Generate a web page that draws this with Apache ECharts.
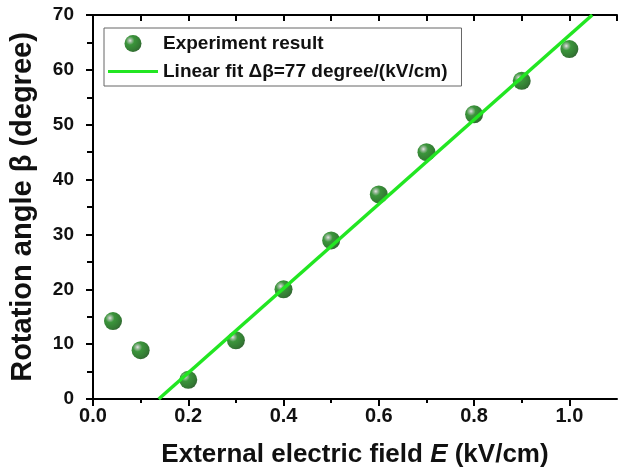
<!DOCTYPE html>
<html>
<head>
<meta charset="utf-8">
<script src="https://cdn.jsdelivr.net/npm/echarts@6/dist/echarts.min.js"></script>
<style>
  html, body { margin: 0; padding: 0; background: #fff; }
  #chart { width: 618px; height: 473px; }
</style>
</head>
<body>
<div id="chart"></div>
<script>
// measured points
const fieldE = [0.042, 0.1, 0.2, 0.3, 0.4, 0.5, 0.6, 0.7, 0.8, 0.9, 1.0];
const angleBeta = [14.2, 8.9, 3.5, 10.7, 20.0, 28.9, 37.3, 45.0, 51.9, 58.0, 63.8];
// linear fit end points
const fitE = [0.138, 1.048];
const fitBeta = [0, 70];
// tick labels
const xMajorTicks = [0, 0.2, 0.4, 0.6, 0.8, 1.0];
const xMinorTicks = [0.1, 0.3, 0.5, 0.7, 0.9];
const xAllTicks = [0, 0.1, 0.2, 0.3, 0.4, 0.5, 0.6, 0.7, 0.8, 0.9, 1.0, 1.1];

const chart = echarts.init(document.getElementById("chart"));

const font = "Liberation Sans, Arial, sans-serif";
const sphere = new echarts.graphic.RadialGradient(0.33, 0.33, 0.75, [
  { offset: 0, color: "#dcdcdc" },
  { offset: 0.14, color: "#7fa87f" },
  { offset: 0.34, color: "#0a7a0a" },
  { offset: 0.8, color: "#005800" },
  { offset: 1, color: "#003c00" },
]);

const axisLine = { show: true, lineStyle: { color: "#000", width: 2 } };
const tickStyle = { width: 2, color: "#000" };

const option = {
  animation: false,
  backgroundColor: "#fff",
  grid: { left: 92, top: 15, right: 1, bottom: 73 },
  legend: {
    orient: "vertical",
    left: 104,
    top: 28,
    padding: [6, 14, 5, 4],
    itemGap: 9,
    itemWidth: 50,
    itemHeight: 17,
    borderColor: "#666",
    borderWidth: 1,
    textStyle: { fontFamily: font, fontWeight: "bold", fontSize: 19, color: "#111" },
    data: [
      { name: "Experiment result" },
      { name: "Linear fit Δβ=77 degree/(kV/cm)", icon: "path://M0,0h50v3.2h-50z" },
    ],
  },
  xAxis: [
    {
      type: "value",
      min: 0,
      max: 1.1,
      position: "bottom",
      name: "External electric field {i|E} (kV/cm)",
      nameLocation: "middle",
      nameGap: 43,
      nameTextStyle: {
        fontFamily: font,
        fontWeight: "bold",
        fontSize: 26,
        color: "#111",
        rich: { i: { fontStyle: "italic", fontWeight: "bold", fontSize: 26, fontFamily: font, color: "#111" } },
      },
      axisLine: axisLine,
      axisTick: { show: true, length: 7, lineStyle: tickStyle, customValues: xMajorTicks },
      axisLabel: {
        customValues: xMajorTicks,
        formatter: (v) => v.toFixed(1),
        fontFamily: font,
        fontWeight: "bold",
        fontSize: 20,
        color: "#111",
        margin: 7,
      },
      splitLine: { show: false },
    },
    {
      type: "value",
      min: 0,
      max: 1.1,
      position: "bottom",
      axisLine: { show: false },
      axisTick: { show: true, length: 4, lineStyle: tickStyle, customValues: xMinorTicks },
      axisLabel: { show: false },
      splitLine: { show: false },
    },
    {
      type: "value",
      min: 0,
      max: 1.1,
      position: "top",
      axisLine: axisLine,
      axisTick: { show: true, inside: true, length: 6, lineStyle: tickStyle, customValues: xAllTicks },
      axisLabel: { show: false },
      splitLine: { show: false },
    },
  ],
  yAxis: [
    {
      type: "value",
      min: 0,
      max: 70,
      interval: 10,
      position: "left",
      name: "Rotation angle β (degree)",
      nameLocation: "middle",
      nameGap: 56,
      nameTextStyle: { fontFamily: font, fontWeight: "bold", fontSize: 29, color: "#111" },
      axisLine: axisLine,
      axisTick: { show: true, length: 7, lineStyle: tickStyle },
      minorTick: { show: true, splitNumber: 2, length: 4, lineStyle: tickStyle },
      axisLabel: { fontFamily: font, fontWeight: "bold", fontSize: 19, color: "#111", margin: 19 },
      splitLine: { show: false },
    },
    {
      type: "value",
      min: 0,
      max: 70,
      interval: 5,
      position: "right",
      axisLine: axisLine,
      axisTick: { show: true, inside: true, length: 6, lineStyle: tickStyle },
      axisLabel: { show: false },
      splitLine: { show: false },
    },
  ],
  series: [
    {
      name: "Linear fit Δβ=77 degree/(kV/cm)",
      type: "line",
      xAxisIndex: 0,
      yAxisIndex: 0,
      data: fitE.map((x, i) => [x, fitBeta[i]]),
      showSymbol: false,
      symbol: "none",
      lineStyle: { color: "#22e622", width: 3.5 },
      itemStyle: { color: "#22e622" },
      z: 3,
    },
    {
      name: "Experiment result",
      type: "scatter",
      xAxisIndex: 0,
      yAxisIndex: 0,
      data: fieldE.map((x, i) => [x, angleBeta[i]]),
      symbol: "circle",
      symbolSize: 18,
      itemStyle: { color: sphere },
      z: 2,
    },
  ],
};

chart.setOption(option);
</script>
</body>
</html>
